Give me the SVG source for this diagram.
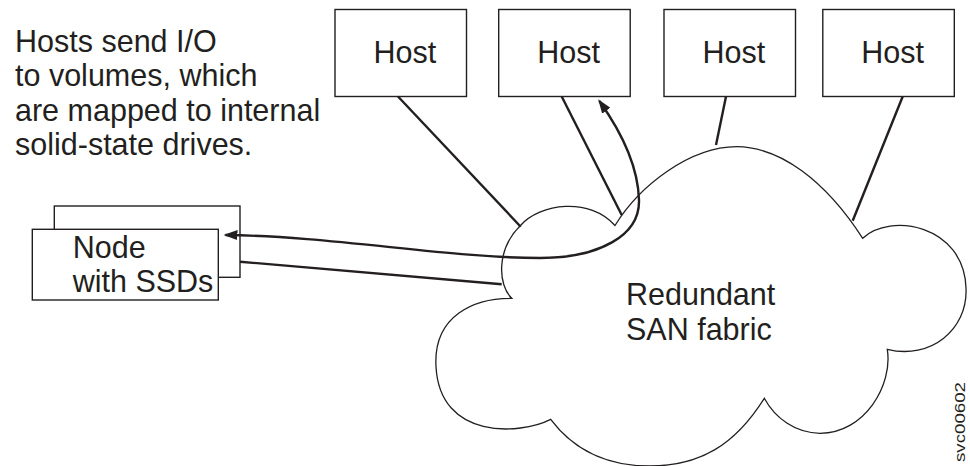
<svg xmlns="http://www.w3.org/2000/svg" width="970" height="466" viewBox="0 0 970 466">
<defs>
<style>
text{font-family:"Liberation Sans",Arial,sans-serif;fill:#231f20;font-size:30.5px}
.box{fill:#fff;stroke:#231f20;stroke-width:1.4}
.cloud{fill:#fff;stroke:#231f20;stroke-width:1.3}
.conn{fill:none;stroke:#231f20;stroke-width:2.4}
</style>
<marker id="ah" viewBox="0 0 14 10" markerWidth="14" markerHeight="10" refX="12" refY="5" orient="auto-start-reverse" markerUnits="userSpaceOnUse">
<path d="M0,0 L14,5 L0,10 z" fill="#231f20"/>
</marker>
</defs>
<rect width="970" height="466" fill="#fff"/>
<g id="caption">
<text x="15" y="51.5">Hosts send I/O</text>
<text x="15" y="86">to volumes, which</text>
<text x="15" y="120.5">are mapped to internal</text>
<text x="15" y="155">solid-state drives.</text>
</g>
<g id="cloud">
<path class="cloud" d="M511.7,298.3 C498,285 496,250 520,226 C540,203 590,197 615,225.5 C640,185 690,147 736.7,146.7 C780,147 825,180 862.7,238.3 C890,212 964,225 966,288 C968,330 930,360 887.3,349.3 C893,385 865,433 820,433.3 C795,433 775,418 764.3,398.3 C735,445 700,466 650,466 C600,466 570,445 550.7,419.3 C520,435 440,440 436,366.7 C433,315 475,298 511.7,298.3 Z"/>
<text x="626" y="305">Redundant</text>
<text x="626" y="340">SAN fabric</text>
</g>
<g id="host1"><rect class="box" x="335" y="9.5" width="131.5" height="87"/><text x="373.5" y="62.7">Host</text></g>
<g id="host2"><rect class="box" x="498.7" y="9.5" width="131.5" height="87"/><text x="537.2" y="62.7">Host</text></g>
<g id="host3"><rect class="box" x="664" y="9.5" width="131.5" height="87"/><text x="702.5" y="62.7">Host</text></g>
<g id="host4"><rect class="box" x="822.8" y="9.5" width="131.5" height="87"/><text x="861.3" y="62.7">Host</text></g>
<g id="node">
<rect class="box" x="54.3" y="206" width="185.7" height="71.3"/>
<rect class="box" x="32.3" y="229.3" width="186" height="70.7"/>
<text x="72.7" y="257.5">Node</text>
<text x="72.7" y="292">with SSDs</text>
</g>
<g id="connectors">
<line class="conn" x1="398" y1="96.5" x2="520.7" y2="226.7"/>
<line class="conn" x1="561.7" y1="96.5" x2="621.7" y2="215"/>
<line class="conn" x1="726" y1="96.5" x2="716" y2="145"/>
<line class="conn" x1="902.7" y1="96.5" x2="852.7" y2="220.7"/>
<line class="conn" x1="240" y1="261.7" x2="501.7" y2="284.3"/>
<path class="conn" marker-start="url(#ah)" marker-end="url(#ah)" d="M225.5,235 C330,236 450,258 540,258 C600,258 640,235 639,200 C638,165 620,130 599.3,101"/>
</g>
<text transform="translate(965,462) rotate(-90)" style="font-size:15px" textLength="80" lengthAdjust="spacingAndGlyphs">svc00602</text>
</svg>
